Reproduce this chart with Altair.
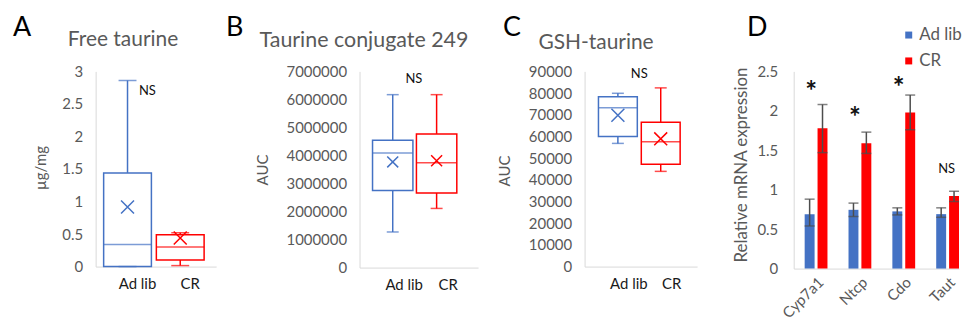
import altair as alt
import pandas as pd

FONT = "Lato"
BLUE = "#4472C4"
RED = "#FF0000"
GRAY = "#595959"
AXIS = "#D9D9D9"
ERR = "#4D4D4D"
XPATH = "M-1,-1L1,1M-1,1L1,-1"

groups = ["Ad lib", "CR"]

# Panel A: Free taurine (ug/mg)
a_min = [0.0, 0.015]
a_q1 = [0.0, 0.10]
a_med = [0.34, 0.30]
a_q3 = [1.44, 0.49]
a_max = [2.86, 0.52]
a_mean = [0.915, 0.44]
a_ns = 2.70

# Panel B: Taurine conjugate 249 (AUC)
b_min = [1270000, 2110000]
b_q1 = [2750000, 2660000]
b_med = [4090000, 3740000]
b_q3 = [4540000, 4770000]
b_max = [6170000, 6170000]
b_mean = [3770000, 3810000]
b_ns = 6730000

# Panel C: GSH-taurine (AUC)
c_min = [56800, 43900]
c_q1 = [60000, 47200]
c_med = [73200, 57600]
c_q3 = [78300, 66600]
c_max = [79900, 82400]
c_mean = [69800, 58900]
c_ns = 88600

# Panel D: relative mRNA expression
genes = ["Cyp7a1", "Ntcp", "Cdo", "Taut"]
d_adlib = [0.69, 0.745, 0.725, 0.69]
d_adlib_lo = [0.54, 0.66, 0.68, 0.65]
d_adlib_hi = [0.88, 0.83, 0.77, 0.77]
d_cr = [1.78, 1.59, 1.98, 0.92]
d_cr_lo = [1.47, 1.46, 1.76, 0.85]
d_cr_hi = [2.08, 1.73, 2.20, 0.98]
sig_genes = ["Cyp7a1", "Ntcp", "Cdo"]
sig_y = [2.32, 1.98, 2.36]
ns_gene = ["Taut"]
ns_y = [1.26]

TOP = 63  # distance from page content top to the plot areas
LETTER_SIZE = 27
LETTER_Y = -36


def spacer(L, T):
    return alt.Chart(alt.Data(values=[{}])).mark_rule(opacity=0).encode(
        x=alt.value(-L), x2=alt.value(-L + 1), y=alt.value(-T), y2=alt.value(-T + 1)
    )


def label_text(txt, x, y, size, color, align="left", angle=0, baseline="alphabetic"):
    return alt.Chart(alt.Data(values=[{"t": txt}])).mark_text(
        align=align, baseline=baseline, fontSize=size, color=color, font=FONT, angle=angle
    ).encode(x=alt.value(x), y=alt.value(y), text="t:N")


def box_panel(mins, q1s, meds, q3s, maxs, means, ns_val, ymax, yvals, fmt, ytitle,
              width, height, sc, boxw, capw, xsize, ns_dx,
              letter, lx, title, tx, ty, tsize, L, lab_dx, yt_x, yt_y):
    df = pd.DataFrame({"g": groups, "min": mins, "q1": q1s, "med": meds,
                       "q3": q3s, "max": maxs, "mean": means})
    xscale = alt.Scale(domain=groups, paddingInner=sc[0], paddingOuter=sc[1], align=sc[2])
    xaxis = alt.Axis(labels=False, title=None)

    def X(band=None):
        if band is None:
            return alt.X("g:N", title=None, sort=groups, scale=xscale, axis=xaxis)
        return alt.X("g:N", title=None, sort=groups, scale=xscale, axis=xaxis, bandPosition=band)

    yscale = alt.Scale(domain=[0, ymax], nice=False, zero=True)
    yaxis = alt.Axis(values=yvals, format=fmt, labelFontSize=15, labelColor=GRAY,
                     labelPadding=13, title=None)

    def Y(f):
        return alt.Y(f"{f}:Q", scale=yscale, axis=yaxis, title=None)

    color = alt.Color("g:N", scale=alt.Scale(domain=groups, range=[BLUE, RED]), legend=None)
    base = alt.Chart(df)
    lw = base.mark_rule(strokeWidth=1.5).encode(x=X(), y=Y("min"), y2="q1", color=color)
    uw = base.mark_rule(strokeWidth=1.5).encode(x=X(), y=Y("q3"), y2="max", color=color)
    box = base.mark_bar(filled=False, strokeWidth=1.5).encode(x=X(), y=Y("q1"), y2="q3", color=color)
    med = base.mark_tick(thickness=1.5, size=boxw).encode(x=X(), y=Y("med"), color=color)
    capl = base.mark_tick(thickness=1.5, size=capw).encode(x=X(), y=Y("min"), color=color)
    capu = base.mark_tick(thickness=1.5, size=capw).encode(x=X(), y=Y("max"), color=color)
    mean = base.mark_point(shape=XPATH, size=xsize, strokeWidth=1.5, filled=False, opacity=1).encode(
        x=X(), y=Y("mean"), color=color)
    ns = alt.Chart(pd.DataFrame({"g": ["Ad lib"], "v": [ns_val], "t": ["NS"]})).mark_text(
        dx=ns_dx, fontSize=13, color="#111111", baseline="middle").encode(
        x=X(1), y=Y("v"), text="t:N")
    xlabels = base.mark_text(dx=lab_dx, fontSize=15, color="#1A1A1A", baseline="alphabetic").encode(
        x=X(), y=alt.value(height + 23), text="g:N")
    return alt.layer(
        lw, uw, box, med, capl, capu, mean, ns, xlabels,
        label_text(letter, lx, LETTER_Y, LETTER_SIZE, "#000000"),
        label_text(title, tx, ty, tsize, GRAY, align="center"),
        label_text(ytitle, yt_x, yt_y, 15, GRAY, align="center", angle=270, baseline="middle"),
        spacer(L, TOP),
    ).properties(width=width, height=height)


A = box_panel(a_min, a_q1, a_med, a_q3, a_max, a_mean, a_ns, 3, [0, 0.5, 1, 1.5, 2, 2.5, 3], "~g", "µg/mg",
              121, 196, (0.094, 0.19, 0.4), 48, 18, 169, -4,
              "A", -83, "Free taurine", 27.5, -26, 21, 88, 10, -55, 97)
B = box_panel(b_min, b_q1, b_med, b_q3, b_max, b_mean, b_ns, 7000000,
              [0, 1000000, 2000000, 3000000, 4000000, 5000000, 6000000, 7000000], "d", "AUC",
              119, 197, (0.08, 0.39, 0.38), 40.5, 12, 121, 1,
              "B", -134, "Taurine conjugate 249", 4.5, -24, 21.5, 144, 11.5, -97, 99)
C = box_panel(c_min, c_q1, c_med, c_q3, c_max, c_mean, c_ns, 90000,
              [0, 10000, 20000, 30000, 40000, 50000, 60000, 70000, 80000, 90000], "d", "AUC",
              113, 196, (0.093, 0.36, 0.45), 39, 12, 169, 2,
              "C", -82, "GSH-taurine", 11.5, -22, 21, 107, 11, -79.5, 100)

# Panel D
dd = pd.DataFrame({
    "gene": genes * 2,
    "grp": ["Ad lib"] * 4 + ["CR"] * 4,
    "val": d_adlib + d_cr,
    "lo": d_adlib_lo + d_cr_lo,
    "hi": d_adlib_hi + d_cr_hi,
})
dx_scale = alt.Scale(domain=genes, paddingInner=0.48, paddingOuter=0.125, align=1)
dx_axis = alt.Axis(labelAngle=-45, labelFontSize=15, labelColor=GRAY, labelPadding=6)
dX = alt.X("gene:N", sort=genes, title=None, scale=dx_scale, axis=dx_axis)
dOff = alt.XOffset("grp:N", sort=groups, scale=alt.Scale(domain=groups, paddingInner=0.23))
dy_scale = alt.Scale(domain=[0, 2.5], nice=False)
dy_axis = alt.Axis(values=[0, 0.5, 1, 1.5, 2, 2.5], format="~g", labelFontSize=15, labelColor=GRAY,
                   labelPadding=16, title=None)


def dY(f):
    return alt.Y(f"{f}:Q", scale=dy_scale, axis=dy_axis, title=None)


dcolor = alt.Color("grp:N", sort=groups, scale=alt.Scale(domain=groups, range=[BLUE, RED]),
                   legend=alt.Legend(orient="none", legendX=107, legendY=-45, title=None,
                                     symbolType="square", symbolSize=49, labelFontSize=17,
                                     labelColor=GRAY, rowPadding=8, padding=0, labelOffset=2,
                                     symbolStrokeWidth=0, labelFont=FONT))
dbase = alt.Chart(dd)
bars = dbase.mark_bar().encode(x=dX, xOffset=dOff, y=dY("val"), color=dcolor)
err = dbase.mark_rule(color=ERR, strokeWidth=1.5).encode(x=dX, xOffset=dOff, y=dY("lo"), y2="hi")
capL = dbase.mark_tick(color=ERR, thickness=1.5, size=10).encode(x=dX, xOffset=dOff, y=dY("lo"))
capH = dbase.mark_tick(color=ERR, thickness=1.5, size=10).encode(x=dX, xOffset=dOff, y=dY("hi"))
stars = alt.Chart(pd.DataFrame({"gene": sig_genes, "v": sig_y, "t": ["*"] * 3})).mark_text(
    fontSize=28, fontWeight="bold", color="#111111", baseline="middle", dx=-5, dy=7).encode(
    x=dX, y=dY("v"), text="t:N")
dns = alt.Chart(pd.DataFrame({"gene": ns_gene, "v": ns_y, "t": ["NS"]})).mark_text(
    fontSize=13, color="#111111", baseline="middle", dx=-1).encode(x=dX, y=dY("v"), text="t:N")
D = alt.layer(
    bars, err, capL, capH, stars, dns,
    label_text("D", -47, LETTER_Y, LETTER_SIZE, "#000000"),
    label_text("Relative mRNA expression", -52, 94, 17, GRAY, align="center", angle=270,
               baseline="middle"),
    spacer(97, TOP),
).properties(width=166, height=198)

chart = alt.hconcat(A, B, C, D, spacing=0).resolve_scale(
    color="independent"
).resolve_legend(color="independent").properties(
    padding=0, background="white"
).configure(font=FONT).configure_view(stroke=None).configure_axis(
    domainColor=AXIS, domainWidth=1, ticks=False, tickSize=0, grid=False,
    labelFont=FONT, titleFont=FONT
)

chart.save("out.html", embed_options={"renderer": "svg", "actions": False})
